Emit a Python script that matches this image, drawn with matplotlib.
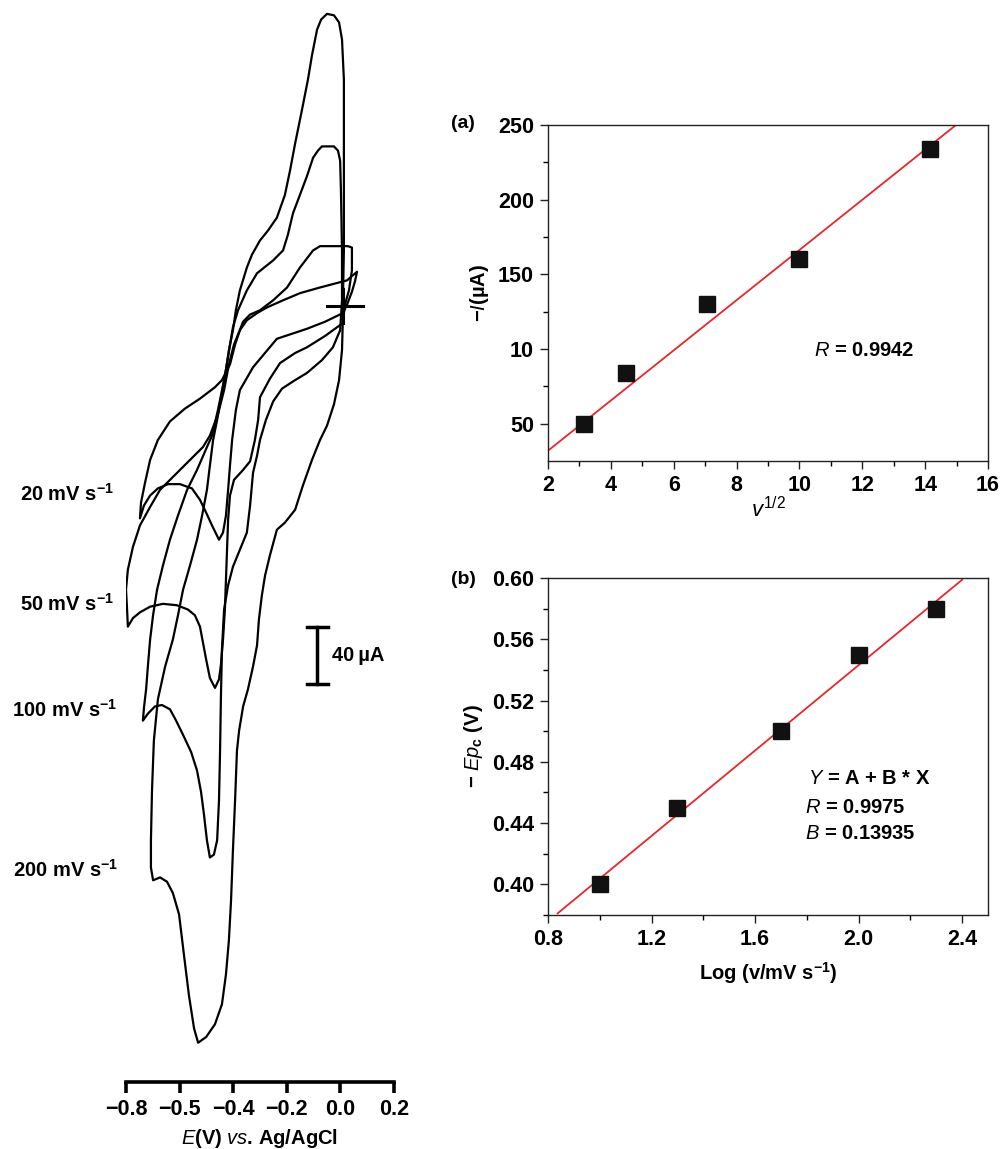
import matplotlib
matplotlib.use("Agg")
import matplotlib.pyplot as plt

plt.rcParams['font.family'] = ['Liberation Sans', 'DejaVu Sans']
plt.rcParams['mathtext.fontset'] = 'custom'
plt.rcParams['mathtext.rm'] = 'Liberation Sans'
plt.rcParams['mathtext.it'] = 'Liberation Sans:italic'
plt.rcParams['mathtext.bf'] = 'Liberation Sans:bold'
plt.rcParams['mathtext.default'] = 'bf'

# ---------------- CV data (E in V, I in uA) ----------------
E_20 = [0.009, 0.025, 0.043, 0.054, 0.062, 0.043, 0.025, -0.076, -0.151, -0.214, -0.274, -0.311,
        -0.349, -0.375, -0.393, -0.412, -0.442, -0.468, -0.524, -0.580, -0.636, -0.681, -0.710,
        -0.729, -0.744, -0.748, -0.733, -0.710, -0.681, -0.643, -0.599, -0.554, -0.524, -0.501,
        -0.479, -0.453, -0.438, -0.427, -0.419, -0.412, -0.404, -0.390, -0.375, -0.326, -0.237,
        -0.125, -0.057, 0.009]
I_20 = [-5, 1, 10, 17, 24, 21, 18, 13, 9, 4, -1, -5, -10, -17, -27, -41, -52, -57, -65, -72, -81,
        -94, -108, -124, -138, -149, -140, -133, -128, -125, -125, -128, -136, -145, -154, -164,
        -159, -147, -129, -112, -94, -73, -59, -43, -23, -16, -11, -5]

E_50 = [0.009, 0.017, 0.032, 0.043, 0.043, 0.028, -0.076, -0.102, -0.151, -0.199, -0.251, -0.300,
        -0.337, -0.363, -0.382, -0.397, -0.416, -0.434, -0.457, -0.487, -0.513, -0.561, -0.625,
        -0.673, -0.710, -0.748, -0.774, -0.793, -0.800, -0.796, -0.793, -0.774, -0.748, -0.710,
        -0.662, -0.610, -0.569, -0.543, -0.524, -0.513, -0.501, -0.487, -0.468, -0.453, -0.446,
        -0.438, -0.431, -0.427, -0.423, -0.419, -0.412, -0.397, -0.363, -0.337, -0.319, -0.307,
        -0.300, -0.263, -0.225, -0.169, -0.125, -0.057, 0.009]
I_50 = [-12, 1, 11, 25, 41, 42, 42, 39, 27, 13, 4, -3, -6, -11, -20, -27, -41, -59, -76, -91, -99,
        -108, -120, -129, -141, -154, -169, -185, -199, -213, -225, -219, -215, -211, -209, -210,
        -213, -217, -225, -236, -248, -261, -268, -262, -252, -234, -213, -192, -171, -150, -133,
        -122, -115, -109, -94, -80, -64, -51, -40, -33, -29, -21, -12]

E_100 = [-0.001, 0.006, 0.006, 0.002, -0.001, -0.009, -0.024, -0.069, -0.084, -0.102, -0.125,
         -0.151, -0.177, -0.196, -0.214, -0.251, -0.311, -0.349, -0.382, -0.401, -0.416, -0.434,
         -0.457, -0.479, -0.498, -0.535, -0.572, -0.606, -0.636, -0.662, -0.684, -0.699, -0.710,
         -0.718, -0.725, -0.733, -0.737, -0.718, -0.692, -0.666, -0.636, -0.613, -0.587, -0.557,
         -0.535, -0.520, -0.509, -0.498, -0.487, -0.472, -0.460, -0.453, -0.449, -0.446, -0.442,
         -0.434, -0.419, -0.401, -0.375, -0.349, -0.337, -0.326, -0.311, -0.300, -0.278, -0.251,
         -0.218, -0.169, -0.125, -0.069, -0.028, -0.001]
I_100 = [-17, 4, 39, 81, 102, 109, 112, 112, 109, 104, 91, 78, 65, 50, 39, 32, 23, 11, -3, -15,
         -32, -52, -73, -91, -99, -115, -129, -147, -164, -182, -199, -217, -234, -252, -269, -282,
         -291, -286, -281, -280, -283, -291, -301, -313, -326, -341, -357, -375, -387, -385, -375,
         -347, -312, -276, -241, -213, -196, -183, -171, -159, -140, -117, -105, -94, -80, -67,
         -58, -52, -47, -38, -29, -17]

E_200 = [0.009, 0.013, 0.013, 0.013, 0.006, -0.005, -0.024, -0.050, -0.072, -0.087, -0.106, -0.121,
         -0.143, -0.169, -0.188, -0.207, -0.237, -0.270, -0.300, -0.330, -0.349, -0.375, -0.390,
         -0.401, -0.416, -0.427, -0.446, -0.460, -0.475, -0.487, -0.498, -0.516, -0.535, -0.561,
         -0.587, -0.606, -0.625, -0.654, -0.681, -0.696, -0.703, -0.707, -0.707, -0.699, -0.673,
         -0.647, -0.625, -0.602, -0.584, -0.565, -0.546, -0.531, -0.501, -0.468, -0.442, -0.427,
         -0.416, -0.408, -0.401, -0.393, -0.386, -0.378, -0.363, -0.345, -0.326, -0.311, -0.304,
         -0.293, -0.281, -0.263, -0.237, -0.207, -0.169, -0.140, -0.106, -0.076, -0.050, -0.024,
         -0.005, 0.006, 0.009, 0.009]
I_200 = [0, 39, 109, 159, 187, 199, 204, 205, 201, 194, 176, 159, 138, 114, 95, 78, 62, 53, 46, 36,
         27, 11, -3, -17, -31, -45, -65, -80, -94, -112, -129, -147, -164, -182, -199, -217, -234,
         -253, -276, -305, -340, -375, -394, -403, -401, -404, -412, -427, -455, -484, -507, -517,
         -513, -504, -490, -469, -445, -417, -382, -347, -312, -298, -281, -269, -253, -238, -220,
         -203, -189, -175, -157, -152, -143, -126, -108, -94, -84, -69, -52, -31, -10, 0]

scan_labels = ["20 mV s$^{-1}$", "50 mV s$^{-1}$", "100 mV s$^{-1}$", "200 mV s$^{-1}$"]
cv_xticks = [-0.8, -0.6, -0.4, -0.2, 0.0, 0.2]
cv_xticklabels = ["\u22120.8", "\u22120.5", "\u22120.4", "\u22120.2", "0.0", "0.2"]

# ---------------- panel (a) ----------------
sqrt_v = [3.16, 4.47, 7.07, 10.0, 14.14]
peak_I = [50, 84, 130, 160, 234]
fit_a_intercept, fit_a_slope = -1.7, 16.8
fit_a_x = [2.0, 14.95]
a_yticks = [50, 100, 150, 200, 250]
a_yticklabels = ["50", "10", "150", "200", "250"]

# ---------------- panel (b) ----------------
log_v = [1.0, 1.30, 1.70, 2.0, 2.30]
Epc = [0.40, 0.45, 0.50, 0.55, 0.58]
fit_b_A, fit_b_B = 0.2644, 0.13935
fit_b_x = [0.837, 2.40]

W, H = 1002, 1149
fig = plt.figure(figsize=(W / 100, H / 100), dpi=100)

def fx(px):
    return px / W

def fy(py):
    return 1 - py / H

TICK_FS = 15.5
TEXT_FS = 14.5

# ---- left CV axes ----
px_per_uA = 1.425
y_top_px, y_bot_px, y0_px = 10, 1082, 306
axcv = fig.add_axes([fx(126), fy(y_bot_px), (394 - 126) / W, (y_bot_px - y_top_px) / H])
axcv.set_xlim(-0.8, 0.2)
axcv.set_ylim((y0_px - y_bot_px) / px_per_uA, (y0_px - y_top_px) / px_per_uA)
for E, I in [(E_20, I_20), (E_50, I_50), (E_100, I_100), (E_200, I_200)]:
    axcv.plot(E, I, color='black', lw=1.6, solid_joinstyle='round', solid_capstyle='round')
# reference cross at origin
axcv.plot([-0.050, 0.085], [0, 0], color='black', lw=2.2)
axcv.plot([0.009, 0.009], [12, -12], color='black', lw=2.2)
# scale bar 40 uA
sb_E, sb_top, sb_len = -0.087, -225, 40
axcv.plot([sb_E, sb_E], [sb_top, sb_top - sb_len], color='black', lw=2.5)
axcv.plot([sb_E - 0.039, sb_E + 0.039], [sb_top, sb_top], color='black', lw=2.5)
axcv.plot([sb_E - 0.039, sb_E + 0.039], [sb_top - sb_len, sb_top - sb_len], color='black', lw=2.5)
axcv.text(-0.031, sb_top - sb_len / 2, "40\u2009\u00b5A", fontsize=TEXT_FS, fontweight='bold',
          ha='left', va='center')

for s in ['left', 'top', 'right']:
    axcv.spines[s].set_visible(False)
axcv.spines['bottom'].set_linewidth(2.6)
axcv.set_yticks([])
axcv.set_xticks(cv_xticks)
axcv.set_xticklabels(cv_xticklabels)
axcv.tick_params(axis='x', direction='out', length=8, width=2.6, pad=4, labelsize=TICK_FS)
for t in axcv.get_xticklabels():
    t.set_fontweight('bold')
axcv.set_xlabel(r"$\mathit{E}$(V) $\mathit{vs}$. Ag/AgCl", fontsize=14.5, fontweight='bold', labelpad=5)

label_pos = [(114, 494), (114, 604), (117, 710), (118, 870)]
for txt, (px, py) in zip(scan_labels, label_pos):
    fig.text(fx(px), fy(py), txt, fontsize=14.5, fontweight='bold', ha='right', va='center')

# ---- panel (a) ----
axa = fig.add_axes([fx(548), fy(461), 440 / W, (461 - 125) / H])
axa.plot(fit_a_x, [fit_a_intercept + fit_a_slope * x for x in fit_a_x], color='#e8262a', lw=1.3, zorder=2)
axa.plot(sqrt_v, peak_I, 's', color='#111111', ms=11, zorder=3)
axa.set_xlim(2, 16)
axa.set_ylim(25, 250)
axa.set_xticks(range(2, 17, 2))
axa.set_xticks(range(3, 16, 2), minor=True)
axa.set_yticks(a_yticks)
axa.set_yticklabels(a_yticklabels)
axa.set_yticks([75, 125, 175, 225], minor=True)
axa.set_xlabel(r"$\mathit{v}^{\mathrm{1/2}}$", fontsize=16, labelpad=1)
axa.set_ylabel("\u2212" + r"$\mathit{I}$" + "(\u00b5A)", fontsize=14.5, fontweight='bold', labelpad=5)
axa.text(0.605, 0.33, r"$\mathit{R}$ = 0.9942", transform=axa.transAxes, fontsize=TEXT_FS,
         fontweight='bold', ha='left', va='center')
fig.text(fx(451), fy(124), "(a)", fontsize=14, fontweight='bold', ha='left', va='center')

# ---- panel (b) ----
axb = fig.add_axes([fx(548), fy(915), 440 / W, (915 - 578) / H])
axb.plot(fit_b_x, [fit_b_A + fit_b_B * x for x in fit_b_x], color='#e8262a', lw=1.3, zorder=2)
axb.plot(log_v, Epc, 's', color='#111111', ms=11, zorder=3)
axb.set_xlim(0.8, 2.5)
axb.set_ylim(0.38, 0.60)
axb.set_xticks([0.8, 1.2, 1.6, 2.0, 2.4])
axb.set_xticklabels(["0.8", "1.2", "1.6", "2.0", "2.4"])
axb.set_xticks([1.0, 1.4, 1.8, 2.2], minor=True)
axb.set_yticks([0.40, 0.44, 0.48, 0.52, 0.56, 0.60])
axb.set_yticklabels(["0.40", "0.44", "0.48", "0.52", "0.56", "0.60"])
axb.set_yticks([0.38, 0.42, 0.46, 0.50, 0.54, 0.58], minor=True)
axb.set_xlabel("Log (v/mV s$^{-1}$)", fontsize=14.5, fontweight='bold', labelpad=7)
axb.set_ylabel("\u2212 " + r"$\mathit{Ep}_{\mathbf{c}}$" + " (V)", fontsize=14.5, fontweight='bold', labelpad=5)
axb.text(0.59, 0.405, r"$\mathit{Y}$ = A + B * X", transform=axb.transAxes, fontsize=TEXT_FS,
         fontweight='bold', ha='left', va='center')
axb.text(0.585, 0.318, r"$\mathit{R}$ = 0.9975", transform=axb.transAxes, fontsize=TEXT_FS,
         fontweight='bold', ha='left', va='center')
axb.text(0.585, 0.243, r"$\mathit{B}$ = 0.13935", transform=axb.transAxes, fontsize=TEXT_FS,
         fontweight='bold', ha='left', va='center')
fig.text(fx(451), fy(580), "(b)", fontsize=14, fontweight='bold', ha='left', va='center')

for ax in (axa, axb):
    for s in ax.spines.values():
        s.set_linewidth(1.0)
        s.set_color('#222222')
    ax.tick_params(axis='both', which='major', direction='out', length=6, width=1.0,
                   labelsize=TICK_FS, pad=4, colors='#222222', labelcolor='black')
    ax.tick_params(axis='both', which='minor', direction='out', length=3.5, width=1.0)
    for t in ax.get_xticklabels() + ax.get_yticklabels():
        t.set_fontweight('bold')

fig.savefig("out.png", dpi=100)
